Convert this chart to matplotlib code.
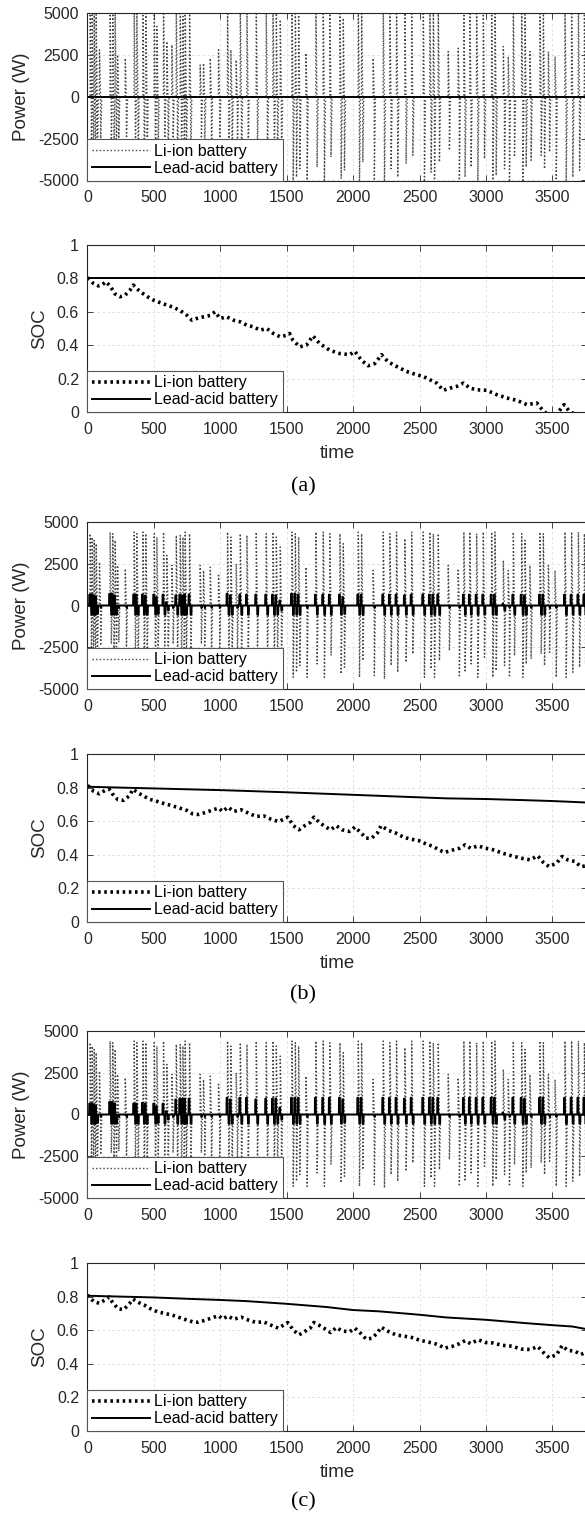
import numpy as np
import matplotlib.pyplot as plt

plt.rcParams['font.family'] = ['Liberation Sans', 'DejaVu Sans']
plt.rcParams['axes.unicode_minus'] = False

# Power strokes of the drive cycle (time in s)
stroke_t = [20, 35, 50, 65, 90, 170, 190, 208, 226, 284, 351, 371, 417, 439, 502, 522,
            572, 597, 635, 668, 698, 718, 735, 768, 848, 873, 924, 986, 1054, 1079, 1119,
            1150, 1200, 1270, 1345, 1396, 1421, 1451, 1539, 1564, 1589, 1644, 1719, 1774,
            1824, 1900, 1925, 2038, 2063, 2150, 2226, 2276, 2326, 2389, 2440, 2527, 2577,
            2603, 2640, 2715, 2790, 2833, 2878, 2929, 2979, 3042, 3067, 3130, 3167, 3205,
            3268, 3293, 3330, 3406, 3431, 3469, 3519, 3594, 3644, 3695, 3740]
# Li-ion power, cases (b) and (c)
li_hi = [4300, 4100, 3900, 3700, 2600, 4400, 4300, 3900, 2400, 2200, 4400, 4300, 4400, 4300,
         4300, 4100, 4400, 3000, 2400, 4200, 4200, 4100, 4400, 4300, 2400, 2100, 2300, 1900,
         4400, 4100, 2500, 4300, 4200, 4400, 4300, 4400, 4100, 3500, 4400, 4300, 4100, 2300,
         4400, 4400, 4300, 4300, 3700, 4400, 4300, 2100, 4400, 4300, 4400, 4000, 4400, 4400,
         4400, 4300, 4300, 2400, 2200, 4400, 4400, 4300, 4400, 4400, 4400, 2700, 2100, 4400,
         4300, 3900, 2400, 4400, 4300, 2400, 2100, 4400, 4400, 4400, 4300]
li_lo = [-2600, -3200, -3700, -3500, -2400, -2300, -2900, -3000, -2200, -2500, -3100, -4300,
         -4100, -3700, -3600, -3000, -2500, -3800, -2300, -3700, -4000, -3400, -3000, -3900,
         -2300, -2600, -3300, -2500, -4300, -3400, -2800, -3700, -3300, -2600, -3800, -4000,
         -3500, -4300, -4300, -4000, -3600, -4300, -3500, -4300, -3000, -4100, -3700, -4300,
         -3300, -4200, -4400, -3600, -4000, -3400, -2900, -4300, -3800, -4300, -3300, -2700,
         -4300, -4000, -3500, -4300, -3100, -4300, -3900, -3600, -4300, -3000, -4300, -3500,
         -3200, -2900, -3600, -2800, -4300, -4300, -4000, -3700, -3500]
# Li-ion power, case (a)
li_a_hi = [5600, 5400, 5200, 4900, 2800, 5600, 5500, 5000, 2500, 2300, 5600, 5500, 5600, 5400,
           5500, 4200, 5600, 3300, 3100, 5400, 5300, 4800, 5600, 5500, 1900, 2000, 2300, 2800,
           5600, 2800, 2200, 5500, 5400, 5600, 5500, 5600, 5200, 4600, 5600, 5500, 5200, 2600,
           5600, 5600, 5500, 5500, 4700, 5600, 5500, 2300, 5600, 5500, 5600, 5000, 5600, 5600,
           5600, 5500, 5500, 2700, 2900, 5600, 5600, 5500, 5600, 5600, 5600, 3000, 2400, 5600,
           5500, 4900, 2700, 5600, 5500, 2700, 2400, 5600, 5600, 5600, 5500]
li_a_lo = [-3000, -3600, -4200, -4000, -2700, -2800, -3400, -3600, -2500, -2900, -3600, -5200,
           -5000, -4400, -4300, -3500, -3000, -4500, -2700, -4400, -4800, -4000, -3600, -4600,
           -2700, -3000, -3800, -2900, -5200, -4000, -3300, -4400, -3900, -3100, -4500, -4800,
           -4200, -5200, -5200, -4800, -4300, -5200, -4200, -5200, -3600, -4900, -4400, -5200,
           -3900, -5000, -5300, -4300, -4800, -4000, -3500, -5200, -4500, -5200, -3900, -3200,
           -5200, -4800, -4200, -5200, -3700, -5200, -4700, -4300, -5200, -3600, -5200, -4200,
           -3800, -3500, -4300, -3300, -5200, -5200, -4800, -4400, -4200]
# Lead-acid power bursts
la_b_hi = [650, 650, 600, 550, 0, 700, 700, 600, 0, 0, 650, 650, 650, 600, 650, 500, 650, 200,
           0, 600, 650, 600, 650, 650, 0, 0, 0, 0, 700, 600, 0, 650, 650, 650, 650, 650, 600, 300,
           700, 700, 650, 0, 650, 650, 650, 650, 500, 650, 650, 0, 650, 650, 650, 600, 650, 650,
           650, 650, 650, 0, 0, 650, 650, 650, 650, 650, 650, 100, 0, 650, 650, 600, 0, 650, 650,
           0, 0, 650, 650, 650, 650]
la_c_hi = [650, 650, 600, 550, 0, 750, 750, 650, 0, 0, 650, 650, 700, 650, 650, 500, 650, 200,
           0, 900, 950, 950, 950, 950, 0, 0, 0, 0, 1000, 900, 0, 1000, 1000, 900, 950, 950, 950,
           400, 1000, 1000, 1000, 0, 1000, 1000, 1000, 1000, 900, 1000, 1000, 0, 1000, 1000, 1000,
           950, 1000, 1000, 1000, 1000, 1000, 0, 0, 1000, 1000, 1000, 1000, 1000, 1000, 100, 0,
           1000, 1000, 950, 0, 1000, 1000, 0, 0, 1000, 1000, 1000, 1000]
la_lo = [-550, -550, -550, -500, -150, -550, -550, -550, -150, -150, -550, -550, -550, -550,
         -550, -500, -550, -300, -150, -550, -550, -550, -550, -550, -150, -150, -150, -150,
         -550, -550, -150, -550, -550, -550, -550, -550, -550, -300, -550, -550, -550, -150,
         -550, -550, -550, -550, -500, -550, -550, -150, -550, -550, -550, -550, -550, -550,
         -550, -550, -550, -150, -150, -550, -550, -550, -550, -550, -550, -300, -150, -550,
         -550, -550, -150, -550, -550, -150, -150, -550, -550, -550, -550]

# SOC, case (a)
soc_a_t = [0, 8, 45, 83, 108, 140, 170, 208, 246, 284, 321, 346, 384, 422, 459, 497, 547, 597,
           648, 698, 748, 786, 823, 873, 924, 961, 999, 1049, 1099, 1150, 1200, 1250, 1300, 1350,
           1400, 1451, 1501, 1522, 1547, 1598, 1648, 1698, 1748, 1824, 1899, 1975, 2013, 2063,
           2113, 2163, 2214, 2264, 2327, 2402, 2478, 2528, 2578, 2629, 2679, 2729, 2780, 2830,
           2880, 2931, 3006, 3081, 3157, 3232, 3308, 3383, 3434, 3459, 3534, 3559, 3589, 3622,
           3660, 3760]
soc_a_li = [0.80, 0.80, 0.77, 0.755, 0.76, 0.78, 0.755, 0.707, 0.69, 0.70, 0.73, 0.76, 0.73,
            0.707, 0.687, 0.67, 0.655, 0.64, 0.627, 0.607, 0.58, 0.55, 0.56, 0.57, 0.578, 0.60,
            0.56, 0.57, 0.55, 0.54, 0.52, 0.51, 0.49, 0.50, 0.47, 0.45, 0.46, 0.47, 0.43, 0.39,
            0.40, 0.456, 0.41, 0.37, 0.35, 0.343, 0.363, 0.31, 0.277, 0.29, 0.343, 0.30, 0.273,
            0.243, 0.223, 0.213, 0.193, 0.173, 0.13, 0.143, 0.153, 0.173, 0.143, 0.133, 0.13,
            0.104, 0.084, 0.07, 0.044, 0.054, 0.004, -0.01, -0.02, 0.014, 0.044, 0.01, -0.01, -0.02]
soc_a_la_t = [0, 3760]
soc_a_la = [0.80, 0.80]

# SOC, cases (b) and (c)
soc_t = [0, 11, 48, 90, 132, 166, 188, 230, 272, 315, 343, 385, 427, 469, 525, 581, 638, 694,
         750, 792, 834, 890, 947, 989, 1017, 1059, 1101, 1157, 1213, 1270, 1326, 1382, 1438,
         1480, 1508, 1551, 1593, 1635, 1677, 1705, 1747, 1789, 1831, 1874, 1916, 1972, 2014,
         2056, 2098, 2140, 2182, 2211, 2267, 2323, 2379, 2435, 2492, 2548, 2604, 2646, 2688,
         2744, 2801, 2843, 2885, 2941, 2997, 3053, 3124, 3194, 3264, 3334, 3390, 3433, 3475,
         3531, 3573, 3615, 3671, 3713, 3760]
soc_b_li = [0.81, 0.807, 0.777, 0.763, 0.783, 0.79, 0.763, 0.728, 0.724, 0.75, 0.79, 0.767,
            0.748, 0.73, 0.718, 0.704, 0.692, 0.678, 0.664, 0.644, 0.64, 0.652, 0.668, 0.678,
            0.658, 0.684, 0.658, 0.668, 0.648, 0.628, 0.632, 0.612, 0.598, 0.612, 0.624, 0.573,
            0.549, 0.573, 0.592, 0.624, 0.592, 0.568, 0.549, 0.573, 0.549, 0.539, 0.565, 0.533,
            0.499, 0.499, 0.529, 0.573, 0.545, 0.529, 0.505, 0.493, 0.485, 0.465, 0.449, 0.43,
            0.414, 0.427, 0.439, 0.459, 0.439, 0.453, 0.439, 0.43, 0.41, 0.394, 0.38, 0.37,
            0.394, 0.354, 0.33, 0.35, 0.39, 0.37, 0.36, 0.33, 0.334]
soc_c_li = [0.81, 0.80, 0.77, 0.76, 0.78, 0.797, 0.767, 0.728, 0.722, 0.757, 0.785, 0.765,
            0.75, 0.73, 0.71, 0.70, 0.69, 0.675, 0.66, 0.65, 0.647, 0.66, 0.676, 0.686, 0.667,
            0.684, 0.665, 0.678, 0.66, 0.646, 0.65, 0.63, 0.612, 0.632, 0.645, 0.60, 0.572,
            0.592, 0.612, 0.646, 0.628, 0.608, 0.586, 0.616, 0.596, 0.59, 0.612, 0.582, 0.547,
            0.552, 0.582, 0.618, 0.592, 0.572, 0.565, 0.558, 0.543, 0.532, 0.523, 0.512, 0.493,
            0.503, 0.52, 0.538, 0.52, 0.543, 0.527, 0.524, 0.51, 0.505, 0.488, 0.485, 0.503,
            0.467, 0.437, 0.453, 0.508, 0.48, 0.475, 0.455, 0.47]
soc_la_t = [0, 500, 750, 1000, 1200, 1500, 1800, 2000, 2200, 2500, 2700, 3000, 3300, 3500,
            3650, 3760]
soc_b_la = [0.805, 0.795, 0.79, 0.785, 0.78, 0.772, 0.763, 0.757, 0.751, 0.742, 0.736, 0.732,
            0.725, 0.72, 0.715, 0.711]
soc_c_la = [0.805, 0.795, 0.787, 0.78, 0.773, 0.757, 0.738, 0.72, 0.712, 0.692, 0.676, 0.662,
            0.642, 0.63, 0.622, 0.606]

W, H = 585, 1516
fig = plt.figure(figsize=(W / 100, H / 100), dpi=100)


def make_axes(top, bottom):
    ax = fig.add_axes([87.4 / W, 1 - bottom / H, 499.5 / W, (bottom - top) / H])
    ax.tick_params(direction='in', top=True, right=True, length=4, width=0.6,
                   labelsize=11.5, colors='#262626')
    ax.tick_params(axis='x', pad=7)
    ax.tick_params(axis='y', pad=6)
    ax.grid(True, color='#dcdcdc', linestyle=(0, (3, 3)), linewidth=0.6)
    ax.set_axisbelow(True)
    for s in ax.spines.values():
        s.set_linewidth(0.8)
        s.set_color('#262626')
    ax.set_xlim(0, 3760)
    ax.set_xticks(range(0, 4000, 500))
    return ax


def spikes(t, hi, lo):
    xs, ys = [0], [0]
    for ti, h, l in zip(t, hi, lo):
        xs += [ti, ti + 1, ti + 9, ti + 10, ti + 18]
        ys += [0, h, 0, l, 0]
    xs.append(3760)
    ys.append(0)
    return xs, ys


def bursts(t, hi, lo):
    xs, ys = [0], [0]
    for ti, h, l in zip(t, hi, lo):
        if h == 0:
            xs += [ti + 8, ti + 12, ti + 16]
            ys += [0, l, 0]
            continue
        xs += [ti - 7, ti - 6, ti, ti + 1, ti + 8, ti + 9, ti + 15, ti + 16]
        ys += [0, h, h, 0, 0, l, l, 0]
    xs.append(3760)
    ys.append(0)
    return xs, ys


def legend(ax):
    leg = ax.legend(loc='lower left', borderaxespad=0, fancybox=False, framealpha=1,
                    edgecolor='#555555', fontsize=11.5, handlelength=3.6, handletextpad=0.3,
                    labelspacing=0.12, borderpad=0.3)
    leg.get_frame().set_linewidth(0.8)


def power_panel(top, bottom, li, la):
    ax = make_axes(top, bottom)
    ax.plot(*li, color='#454545', lw=1.0, linestyle=(0, (1, 1.6)), label='Li-ion battery')
    ax.plot(*la, color='black', lw=1.4, label='Lead-acid battery')
    ax.set_ylim(-5000, 5000)
    ax.set_yticks([-5000, -2500, 0, 2500, 5000])
    ax.set_ylabel('Power (W)', fontsize=13.5, color='#262626', labelpad=6)
    legend(ax)
    return ax


def soc_panel(top, bottom, t_li, li, t_la, la):
    ax = make_axes(top, bottom)
    ax.plot(t_li, li, color='black', lw=2.6, linestyle=(0, (0.7, 1.0)), label='Li-ion battery')
    ax.plot(t_la, la, color='black', lw=1.4, label='Lead-acid battery')
    ax.set_ylim(0, 1)
    ax.set_yticks([0, 0.2, 0.4, 0.6, 0.8, 1])
    ax.set_yticklabels(['0', '0.2', '0.4', '0.6', '0.8', '1'])
    ax.set_ylabel('SOC', fontsize=13.5, color='#262626', labelpad=6)
    ax.set_xlabel('time', fontsize=13.5, color='#262626', labelpad=6)
    legend(ax)
    return ax


power_panel(13, 180.5, spikes(stroke_t, li_a_hi, li_a_lo), ([0, 3760], [0, 0]))
soc_panel(245, 412, soc_a_t, soc_a_li, soc_a_la_t, soc_a_la)
power_panel(522, 689, spikes(stroke_t, li_hi, li_lo), bursts(stroke_t, la_b_hi, la_lo))
soc_panel(754, 922, soc_t, soc_b_li, soc_la_t, soc_b_la)
power_panel(1031, 1198, spikes(stroke_t, li_hi, li_lo), bursts(stroke_t, la_c_hi, la_lo))
soc_panel(1263, 1431, soc_t, soc_c_li, soc_la_t, soc_c_la)

for label, y in [('(a)', 487), ('(b)', 995), ('(c)', 1502)]:
    fig.text(303 / W, 1 - y / H, label, family=['Liberation Serif', 'DejaVu Serif'],
             fontsize=16, ha='center', va='center')

fig.savefig('out.png', dpi=100)
